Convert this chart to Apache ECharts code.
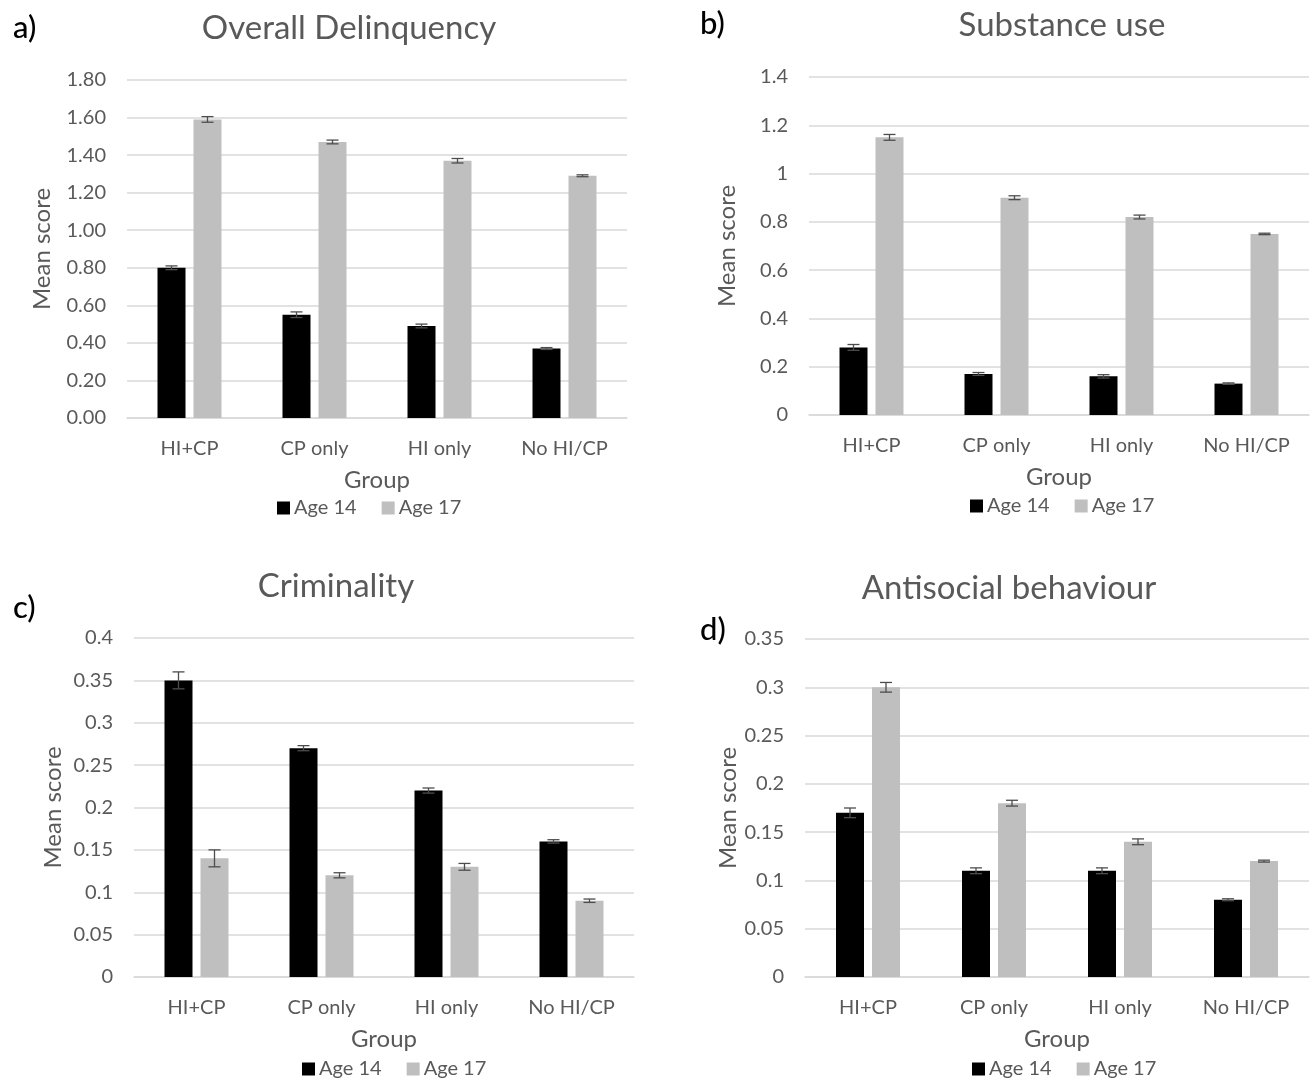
<!DOCTYPE html>
<html><head><meta charset="utf-8">
<script src="https://cdn.jsdelivr.net/npm/echarts@6/dist/echarts.min.js"></script>
<style>html,body{margin:0;padding:0;background:#fff}#c{width:1312px;height:1079px}</style>
</head><body><div id="c"></div>
<script>
const categories = ['HI+CP', 'CP only', 'HI only', 'No HI/CP'];
const seriesNames = ['Age 14', 'Age 17'];
const panelTitles = ['Overall Delinquency', 'Substance use', 'Criminality', 'Antisocial behaviour'];
const panelLetters = ['a)', 'b)', 'c)', 'd)'];

const delinq14 = [0.80, 0.55, 0.49, 0.37];
const delinq17 = [1.59, 1.47, 1.37, 1.29];
const delinq14Err = [0.010, 0.015, 0.010, 0.005];
const delinq17Err = [0.015, 0.010, 0.012, 0.005];

const subst14 = [0.28, 0.17, 0.16, 0.13];
const subst17 = [1.15, 0.90, 0.82, 0.75];
const subst14Err = [0.012, 0.006, 0.007, 0.003];
const subst17Err = [0.012, 0.008, 0.008, 0.003];

const crim14 = [0.35, 0.27, 0.22, 0.16];
const crim17 = [0.14, 0.12, 0.13, 0.09];
const crim14Err = [0.010, 0.003, 0.003, 0.002];
const crim17Err = [0.010, 0.003, 0.004, 0.002];

const anti14 = [0.17, 0.11, 0.11, 0.08];
const anti17 = [0.30, 0.18, 0.14, 0.12];
const anti14Err = [0.005, 0.003, 0.003, 0.001];
const anti17Err = [0.005, 0.003, 0.003, 0.001];

const yMax = [1.8, 1.4, 0.4, 0.35];
const yInterval = [0.2, 0.2, 0.05, 0.05];
const yDecimals = [2, -1, -1, -1];

const panels = [
  {v14: delinq14, v17: delinq17, e14: delinq14Err, e17: delinq17Err},
  {v14: subst14, v17: subst17, e14: subst14Err, e17: subst17Err},
  {v14: crim14, v17: crim17, e14: crim14Err, e17: crim17Err},
  {v14: anti14, v17: anti17, e14: anti14Err, e17: anti17Err}
];

// layout
const grids = [
  {left: 127, top: 80, width: 500, height: 338},
  {left: 809, top: 77, width: 500, height: 338},
  {left: 134, top: 638, width: 500, height: 339},
  {left: 805, top: 639, width: 504, height: 338}
];
const yNameGap = [73, 70, 69, 65];
const titlePos = [[344, 7], [1057, 4], [331, 565], [1004, 567]];
const letterPos = [[8, 7], [695, 3], [8, 587], [695, 609]];
const legendPos = [[277, 498], [970, 496], [302, 1059], [972, 1059]];

const FONT = 'Lato, "Open Sans", sans-serif';
const TXT = '#595959';
const BAR_W = 28, BAR_GAP = 8;
const OFFSETS = [-(BAR_W + BAR_GAP) / 2, (BAR_W + BAR_GAP) / 2];

function errRender(offset) {
  return function (params, api) {
    const x = api.value(0), v = api.value(1), e = api.value(2);
    const hi = api.coord([x, v + e]);
    const lo = api.coord([x, v - e]);
    const cx = hi[0] + offset;
    const cap = 6;
    const style = {stroke: '#4d4d4d', lineWidth: 1.3};
    return {type: 'group', children: [
      {type: 'line', shape: {x1: cx, y1: hi[1], x2: cx, y2: lo[1]}, style},
      {type: 'line', shape: {x1: cx - cap, y1: hi[1], x2: cx + cap, y2: hi[1]}, style},
      {type: 'line', shape: {x1: cx - cap, y1: lo[1], x2: cx + cap, y2: lo[1]}, style}
    ]};
  };
}

const option = {
  animation: false,
  backgroundColor: '#fff',
  textStyle: {fontFamily: FONT},
  title: [],
  legend: [],
  grid: [],
  xAxis: [],
  yAxis: [],
  series: []
};

panels.forEach((p, i) => {
  option.title.push({
    text: panelTitles[i], left: titlePos[i][0], top: titlePos[i][1], textAlign: 'center',
    textStyle: {fontFamily: FONT, fontSize: 33, fontWeight: 'normal', color: TXT}
  });
  option.title.push({
    text: panelLetters[i], left: letterPos[i][0], top: letterPos[i][1],
    textStyle: {fontFamily: FONT, fontSize: 31, fontWeight: 500, color: '#000'}
  });
  option.legend.push({
    data: seriesNames, left: legendPos[i][0], top: legendPos[i][1], orient: 'horizontal',
    padding: 0, icon: 'rect', itemWidth: 13, itemHeight: 13, itemGap: 25, selectedMode: false,
    textStyle: {fontFamily: FONT, fontSize: 20, color: TXT, padding: [0, 0, 0, -1]}
  });
  option.grid.push(Object.assign({containLabel: false}, grids[i]));
  option.xAxis.push({
    type: 'category', gridIndex: i, data: categories,
    name: 'Group', nameLocation: 'middle', nameGap: 50,
    nameTextStyle: {fontFamily: FONT, fontSize: 24, color: TXT},
    axisLine: {lineStyle: {color: '#d9d9d9', width: 1.5}},
    axisTick: {show: false},
    axisLabel: {fontFamily: FONT, fontSize: 20, color: TXT, margin: 21},
    splitLine: {show: false}
  });
  const dec = yDecimals[i];
  option.yAxis.push({
    type: 'value', gridIndex: i, min: 0, max: yMax[i], interval: yInterval[i],
    name: 'Mean score', nameLocation: 'middle', nameRotate: 90, nameGap: yNameGap[i],
    nameTextStyle: {fontFamily: FONT, fontSize: 24, color: TXT},
    axisLine: {show: false}, axisTick: {show: false},
    axisLabel: {fontFamily: FONT, fontSize: 20, color: TXT, margin: 21,
      formatter: v => dec > 0 ? v.toFixed(dec) : String(parseFloat(v.toFixed(4)))},
    splitLine: {lineStyle: {color: '#d9d9d9', width: 1.5}}
  });
  option.series.push({
    name: 'Age 14', type: 'bar', xAxisIndex: i, yAxisIndex: i, data: p.v14,
    barWidth: BAR_W, barGap: (BAR_GAP / BAR_W * 100) + '%', itemStyle: {color: '#000000'}
  });
  option.series.push({
    name: 'Age 17', type: 'bar', xAxisIndex: i, yAxisIndex: i, data: p.v17,
    barWidth: BAR_W, itemStyle: {color: '#bfbfbf'}
  });
  option.series.push({
    type: 'custom', xAxisIndex: i, yAxisIndex: i, z: 10,
    renderItem: errRender(OFFSETS[0]), encode: {x: 0, y: 1},
    data: p.v14.map((v, k) => [k, v, p.e14[k]])
  });
  option.series.push({
    type: 'custom', xAxisIndex: i, yAxisIndex: i, z: 10,
    renderItem: errRender(OFFSETS[1]), encode: {x: 0, y: 1},
    data: p.v17.map((v, k) => [k, v, p.e17[k]])
  });
});

const chart = echarts.init(document.getElementById('c'), null, {renderer: 'canvas'});
chart.setOption(option);
</script></body></html>
